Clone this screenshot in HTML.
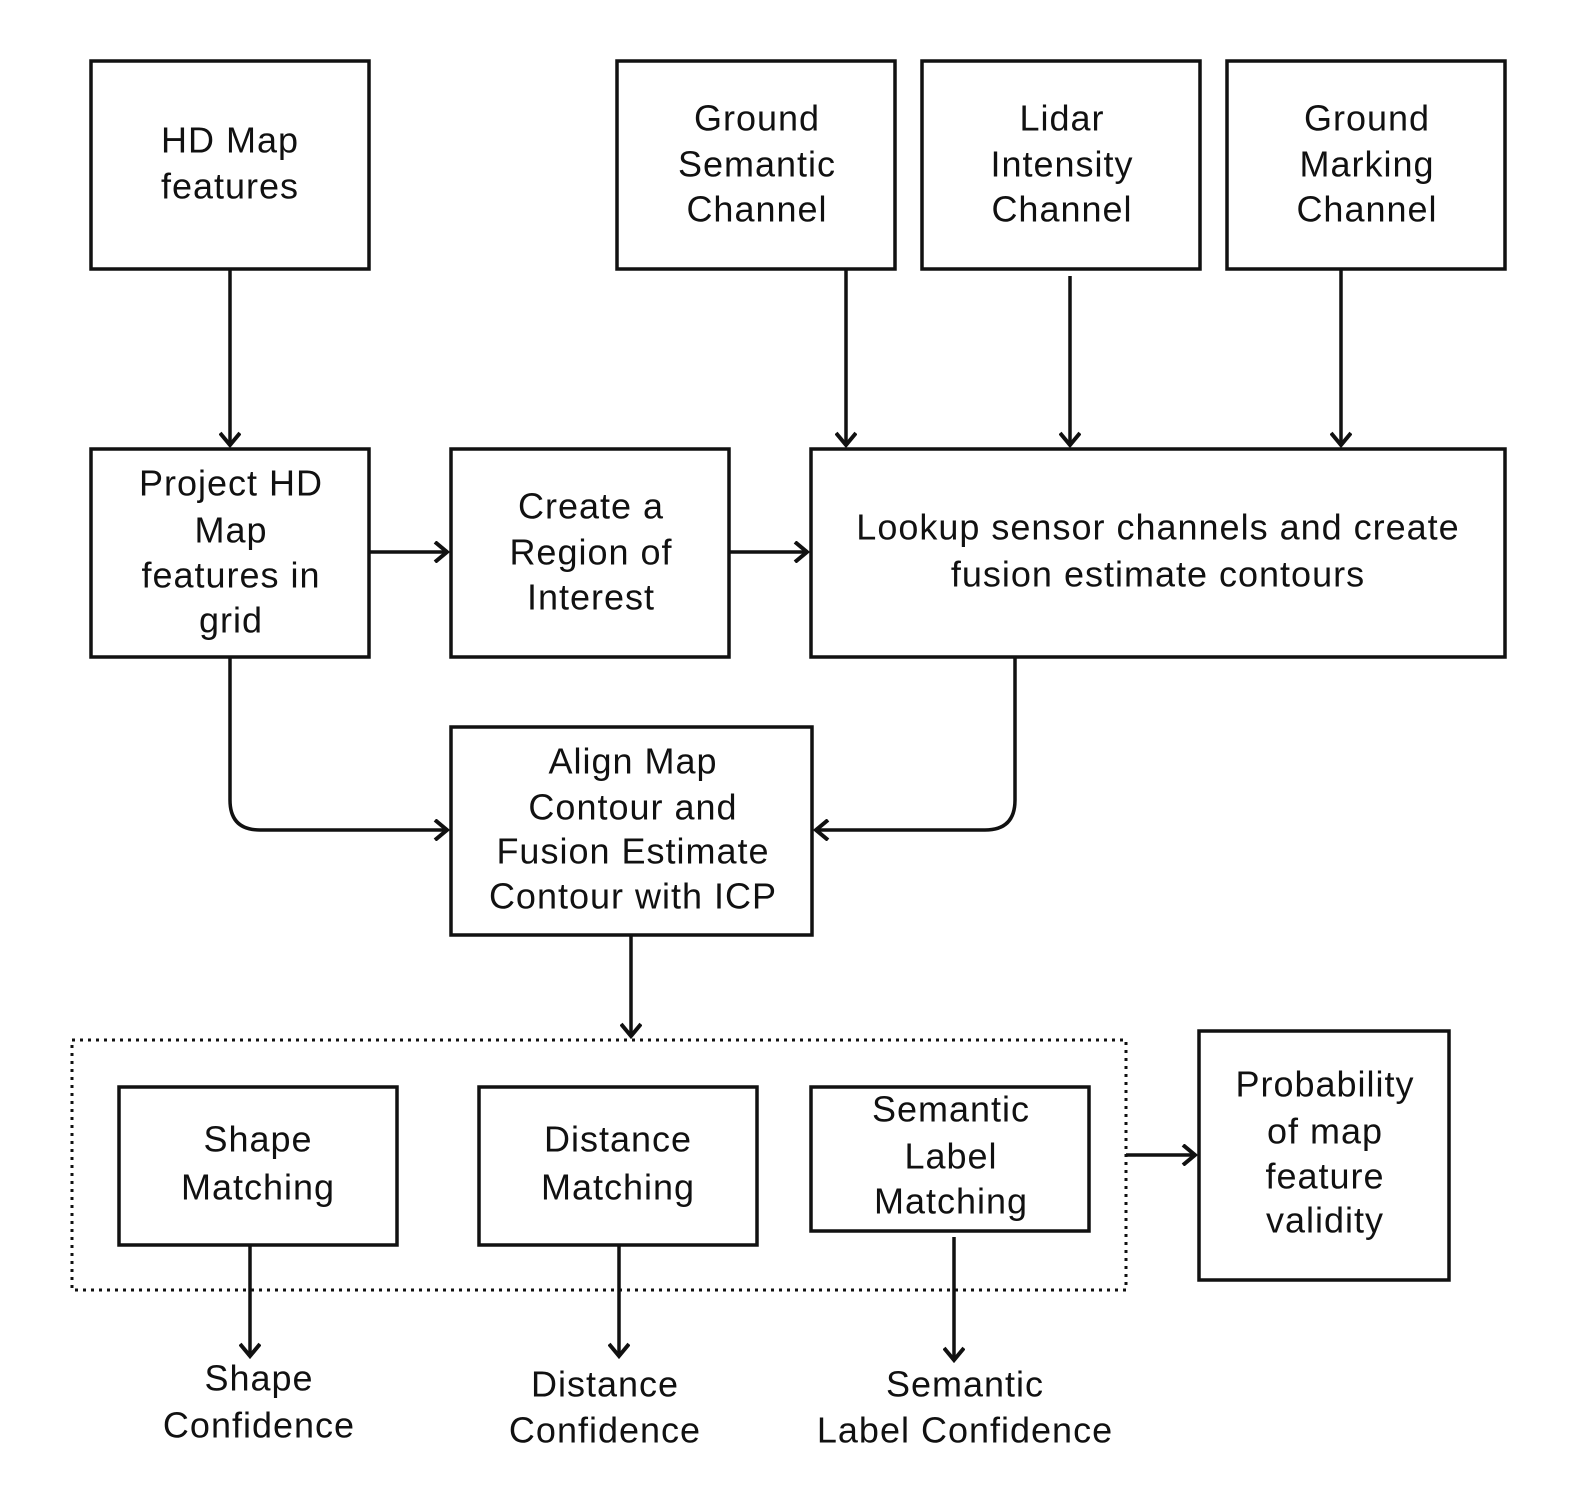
<!DOCTYPE html>
<html><head><meta charset="utf-8"><style>
html,body{margin:0;padding:0;background:#fff;}
svg{display:block}
text{font-family:"Liberation Sans",Arial,sans-serif;font-size:36px;letter-spacing:1px;fill:#111;text-anchor:middle;dominant-baseline:central}
</style></head><body>
<svg width="1572" height="1492" viewBox="0 0 1572 1492" xmlns="http://www.w3.org/2000/svg">
<defs>
<marker id="a" markerWidth="20" markerHeight="22" refX="14" refY="11" orient="auto" markerUnits="userSpaceOnUse">
<path d="M2,1 L14,11 L2,21" fill="none" stroke="#111" stroke-width="4"/>
</marker>
</defs>
<g fill="none" stroke="#111" stroke-width="3.5">
<rect x="91" y="61" width="278" height="208"/>
<rect x="617" y="61" width="278" height="208"/>
<rect x="922" y="61" width="278" height="208"/>
<rect x="1227" y="61" width="278" height="208"/>
<rect x="91" y="449" width="278" height="208"/>
<rect x="451" y="449" width="278" height="208"/>
<rect x="811" y="449" width="694" height="208"/>
<rect x="451" y="727" width="361" height="208"/>
<rect x="72" y="1040" width="1054" height="250" stroke-dasharray="3,5" stroke-width="3"/>
<rect x="119" y="1087" width="278" height="158"/>
<rect x="479" y="1087" width="278" height="158"/>
<rect x="811" y="1087" width="278" height="144"/>
<rect x="1199" y="1031" width="250" height="249"/>
</g>
<g fill="none" stroke="#111" stroke-width="3.5" marker-end="url(#a)">
<line x1="230" y1="269" x2="230" y2="445"/>
<line x1="846" y1="269" x2="846" y2="445"/>
<line x1="1070" y1="276" x2="1070" y2="445"/>
<line x1="1341" y1="269" x2="1341" y2="445"/>
<line x1="369" y1="552" x2="447" y2="552"/>
<line x1="729" y1="552" x2="807" y2="552"/>
<path d="M230,657 L230,800 Q230,830 260,830 L447,830"/>
<path d="M1015,657 L1015,800 Q1015,830 985,830 L816,830"/>
<line x1="631" y1="935" x2="631" y2="1036"/>
<line x1="1126" y1="1155" x2="1195" y2="1155"/>
<line x1="250" y1="1245" x2="250" y2="1356"/>
<line x1="619" y1="1245" x2="619" y2="1356"/>
<line x1="954" y1="1237" x2="954" y2="1360"/>
</g>
<text x="230" y="140">HD Map</text><text x="230" y="186">features</text>
<text x="757" y="118">Ground</text><text x="757" y="164">Semantic</text><text x="757" y="209">Channel</text>
<text x="1062" y="118">Lidar</text><text x="1062" y="164">Intensity</text><text x="1062" y="209">Channel</text>
<text x="1367" y="118">Ground</text><text x="1367" y="164">Marking</text><text x="1367" y="209">Channel</text>
<text x="231" y="483">Project HD</text><text x="231" y="530">Map</text><text x="231" y="575">features in</text><text x="231" y="620">grid</text>
<text x="591" y="506">Create a</text><text x="591" y="552">Region of</text><text x="591" y="597">Interest</text>
<text x="1158" y="527">Lookup sensor channels and create</text><text x="1158" y="574">fusion estimate contours</text>
<text x="633" y="761">Align Map</text><text x="633" y="807">Contour and</text><text x="633" y="851">Fusion Estimate</text><text x="633" y="896">Contour with ICP</text>
<text x="258" y="1139">Shape</text><text x="258" y="1187">Matching</text>
<text x="618" y="1139">Distance</text><text x="618" y="1187">Matching</text>
<text x="951" y="1109">Semantic</text><text x="951" y="1156">Label</text><text x="951" y="1201">Matching</text>
<text x="1325" y="1084">Probability</text><text x="1325" y="1131">of map</text><text x="1325" y="1176">feature</text><text x="1325" y="1220">validity</text>
<text x="259" y="1378">Shape</text><text x="259" y="1425">Confidence</text>
<text x="605" y="1384">Distance</text><text x="605" y="1430">Confidence</text>
<text x="965" y="1384">Semantic</text><text x="965" y="1430">Label Confidence</text>
</svg>
</body></html>
